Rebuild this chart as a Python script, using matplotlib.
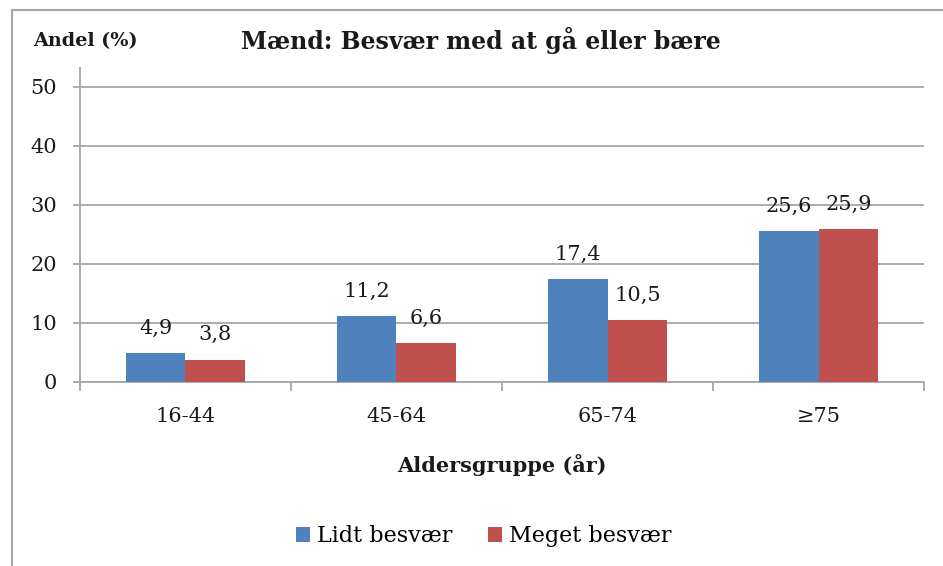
import matplotlib.pyplot as plt
from matplotlib.lines import Line2D
import numpy as np

# data
groups = ['16-44', '45-64', '65-74', '≥75']
lidt = [4.9, 11.2, 17.4, 25.6]
meget = [3.8, 6.6, 10.5, 25.9]
series_names = ['Lidt besvær', 'Meget besvær']
yticks = [0, 10, 20, 30, 40, 50]

plt.rcParams['font.family'] = ['DejaVu Serif']

c_blue = '#4F81BD'
c_red = '#C0504D'
c_grid = '#A6A6A6'
c_text = '#1a1a1a'

fig = plt.figure(figsize=(9.43, 5.66), dpi=100)
ax = fig.add_axes([0.0848, 0.3251, 0.8951, 0.5548])

x = np.arange(len(groups))
w = 0.283
b1 = ax.bar(x - w / 2, lidt, w, color=c_blue, label=series_names[0], zorder=3)
b2 = ax.bar(x + w / 2, meget, w, color=c_red, label=series_names[1], zorder=3)

# value labels with comma decimals
for bars, vals in [(b1, lidt), (b2, meget)]:
    for r, v in zip(bars, vals):
        ax.annotate(f'{v:.1f}'.replace('.', ','),
                    xy=(r.get_x() + r.get_width() / 2, v),
                    xytext=(0, 11), textcoords='offset points',
                    ha='center', va='bottom', fontsize=15, color=c_text, zorder=4)

ax.set_xlim(-0.5, 3.5)
ax.set_ylim(0, 53.2)
ax.set_yticks(yticks)
ax.set_yticklabels([str(t) for t in yticks], fontsize=15, color=c_text)
ax.set_xticks(x)
ax.set_xticklabels(groups, fontsize=15, color=c_text)
ax.set_xticks(np.arange(-0.5, 4, 1), minor=True)
ax.tick_params(axis='x', which='major', length=0, pad=18)
ax.tick_params(axis='x', which='minor', length=6.5, width=1.3, color=c_grid)
ax.tick_params(axis='y', length=5, width=1.3, color=c_grid, pad=11.5)

ax.grid(axis='y', color=c_grid, linewidth=1.3, zorder=0)
ax.set_axisbelow(True)
for s in ['top', 'right']:
    ax.spines[s].set_visible(False)
for s in ['left', 'bottom']:
    ax.spines[s].set_color(c_grid)
    ax.spines[s].set_linewidth(1.3)

ax.set_xlabel('Aldersgruppe (år)', fontsize=15, fontweight='bold', labelpad=20, color=c_text)

fig.text(0.51, 0.928, 'Mænd: Besvær med at gå eller bære', ha='center', va='center',
         fontsize=17, fontweight='bold', color=c_text)
fig.text(0.035, 0.927, 'Andel (%)', ha='left', va='center',
         fontsize=13.8, fontweight='bold', color=c_text)

fig.legend(handles=[b1, b2], loc='center', bbox_to_anchor=(0.513, 0.053), ncol=2,
           frameon=False, fontsize=16, handlelength=0.65, handleheight=0.65,
           handletextpad=0.3, columnspacing=1.6)

# outer border of chart area
fig.add_artist(Line2D([0.0127, 0.0127], [0, 0.982], transform=fig.transFigure,
                      color=c_grid, linewidth=1.5))
fig.add_artist(Line2D([0.0127, 1], [0.982, 0.982], transform=fig.transFigure,
                      color=c_grid, linewidth=1.5))

fig.savefig('out.png', dpi=100, facecolor='white')
